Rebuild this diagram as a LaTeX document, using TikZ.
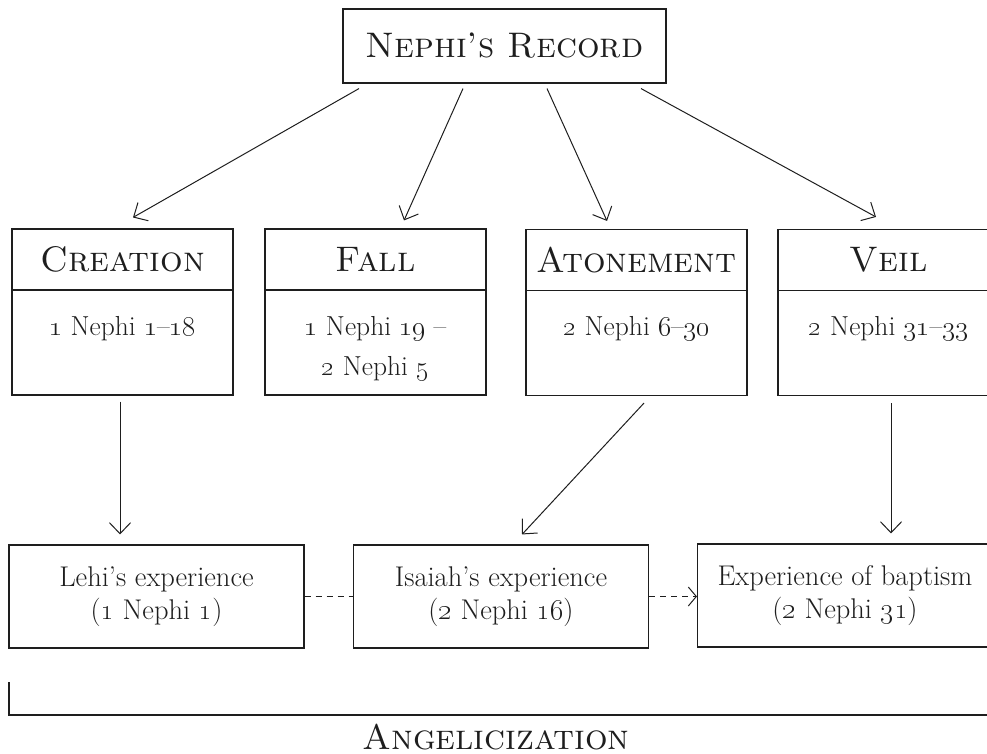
\documentclass[tikz,border=0pt]{standalone}
\usepackage{fix-cm}
\usetikzlibrary{arrows.meta,calc}

\definecolor{ink}{HTML}{1E1E1E}

\tikzset{
  box/.style={draw=ink, line width=1.1pt, inner sep=0pt, text=ink},
  catbox/.style={box, minimum width=221pt},
  headfont/.style={font=\fontsize{35.5}{40}\selectfont\scshape},
  reffont/.style={font=\fontsize{27.5}{34}\selectfont, text=ink, align=center},
  expfont/.style={font=\fontsize{28.5}{33}\selectfont, text=ink, align=center},
  expbox/.style={box, minimum width=295pt, minimum height=103pt, expfont},
  arr/.style={draw=ink, line width=1pt, -{Straight Barb[length=11pt,width=21pt]}},
  link/.style={draw=ink, line width=1pt, dash pattern=on 6pt off 5pt},
}

\begin{document}
\begin{tikzpicture}[x=1pt,y=-1pt]
\useasboundingbox (0,0) rectangle (987,754);
\clip (0,0) rectangle (987,754);

% title
\node[box, minimum width=323pt, minimum height=74pt, headfont] (rec) at (504.5,46) {Nephi's Record};

% the four sections: heading cell and reference cell
\node[catbox, minimum height=61pt, headfont] (creH) at (122.5,259.5) {Creation};
\node[catbox, minimum height=105pt] (creB) at (122.5,342.5) {};
\node[reffont, anchor=base] (creT) at (122.5,335) {\oldstylenums{1} Nephi \oldstylenums{1}--\oldstylenums{18}};

\node[catbox, minimum height=61pt, headfont] (falH) at (375.5,259.5) {Fall};
\node[catbox, minimum height=105pt] (falB) at (375.5,342.5) {};
\node[reffont, anchor=base] (falT) at (375.5,335) {\oldstylenums{1} Nephi \oldstylenums{19} --};
\node[reffont, anchor=base] (falU) at (375.5,375) {\oldstylenums{2} Nephi \oldstylenums{5}};

\node[catbox, minimum height=61pt, headfont] (atoH) at (636.5,260) {Atonement};
\node[catbox, minimum height=105pt] (atoB) at (636.5,343) {};
\node[reffont, anchor=base] (atoT) at (636.5,335) {\oldstylenums{2} Nephi \oldstylenums{6}--\oldstylenums{30}};

\node[catbox, minimum height=61pt, headfont] (veiH) at (888.5,260) {Veil};
\node[catbox, minimum height=105pt] (veiB) at (888.5,343) {};
\node[reffont, anchor=base] (veiT) at (888.5,335) {\oldstylenums{2} Nephi \oldstylenums{31}--\oldstylenums{33}};

% experiences
\node[expbox] (lehi) at (156.5,596.5) {Lehi's experience\\(\oldstylenums{1} Nephi \oldstylenums{1})};
\node[expbox] (isai) at (501,596.5) {Isaiah's experience\\(\oldstylenums{2} Nephi \oldstylenums{16})};
\node[expbox] (bapt) at (845,595.5) {Experience of baptism\\(\oldstylenums{2} Nephi \oldstylenums{31})};

% title to sections
\draw[arr] ($(rec.south)+(-145.5,5)$) -- ($(creH.north)+(10.5,-11)$);
\draw[arr] ($(rec.south)+(-41.5,5)$) -- ($(falH.north)+(28.5,-8)$);
\draw[arr] ($(rec.south)+(42.5,5)$) -- ($(atoH.north)+(-29.5,-8)$);
\draw[arr] ($(rec.south)+(136.5,5)$) -- ($(veiH.north)+(-12.5,-12)$);

% sections to experiences
\draw[arr] ($(creB.south)+(-2.5,6)$) -- ($(lehi.north)+(-36.5,-10)$);
\draw[arr] ($(atoB.south)+(7.5,7)$) -- ($(isai.north)+(21,-10)$);
\draw[arr] ($(veiB.south)+(2.5,7)$) -- ($(bapt.north)+(46,-10)$);

% dashed links between experiences
\draw[link] (lehi.east) -- (isai.west);
\draw[link, -{Straight Barb[length=8pt,width=19pt]}] (isai.east) -- (isai.east -| bapt.west);

% bracket and label
\coordinate (bTop) at (9,682);
\coordinate (bEnd) at (1000,715);
\draw[draw=ink, line width=1.1pt] (bTop) |- (bEnd);
\node[headfont, text=ink, anchor=base] (ang) at (496,749) {Angelicization};
\end{tikzpicture}
\end{document}
